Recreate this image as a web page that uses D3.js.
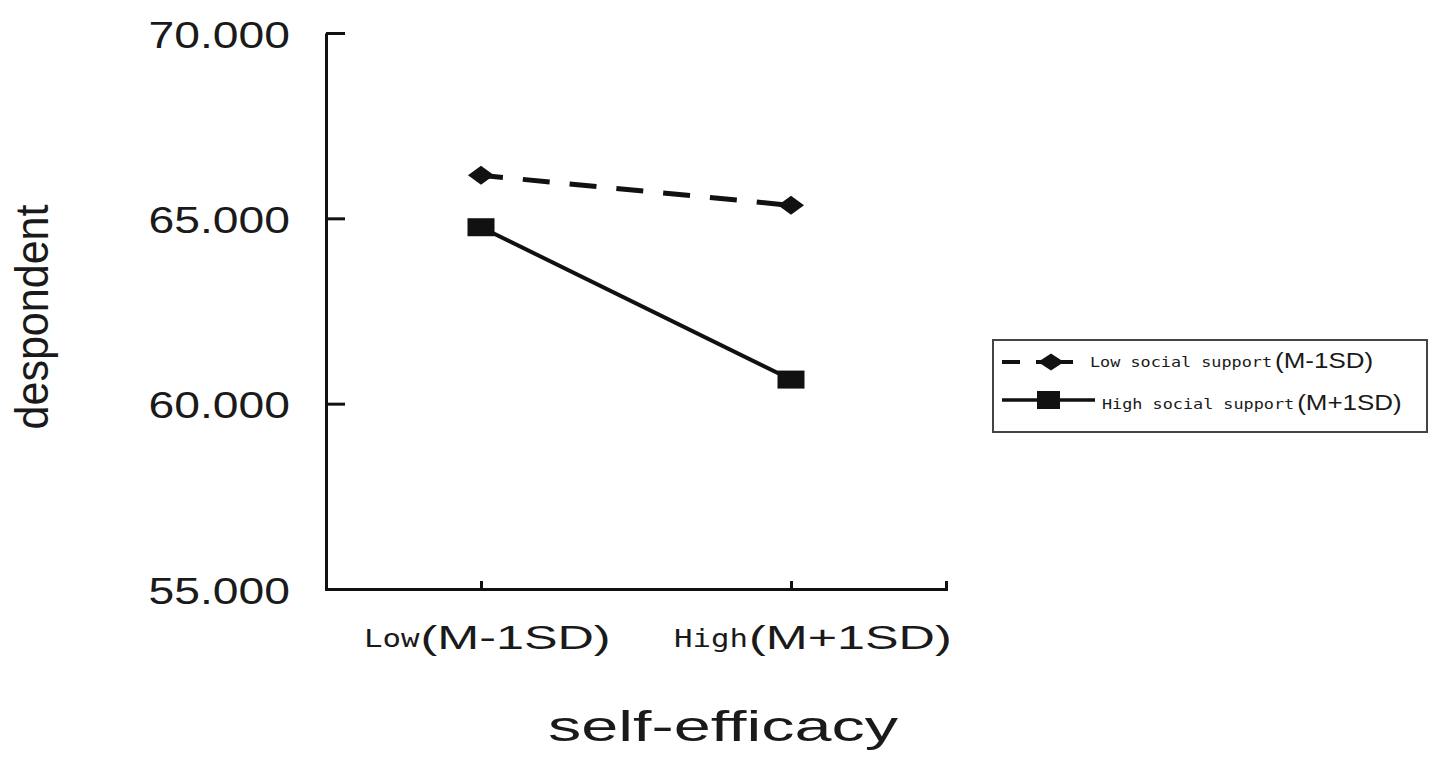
<!DOCTYPE html>
<html>
<head>
<meta charset="utf-8">
<script src="https://cdn.jsdelivr.net/npm/d3@7"></script>
<style>
  html, body { margin: 0; padding: 0; background: #fff; }
  svg { display: block; }
</style>
</head>
<body>
<svg id="chart" width="1441" height="761"></svg>
<script>
// values
const categories = ["Low", "High"];
const categoryNotes = ["(M-1SD)", "(M+1SD)"];
const seriesNames = ["Low social support", "High social support"];
const seriesNotes = ["(M-1SD)", "(M+1SD)"];
const lowSupport = [66.16, 65.35];
const highSupport = [64.76, 60.65];
const yTicks = [55, 60, 65, 70];

const ink = "#111";
const svg = d3.select("#chart");

// the source image is stretched sideways, so text gets widened to match
function widen(sel, factor) {
    sel.each(function () {
        let w = this.getComputedTextLength();
        d3.select(this).attr("textLength", w * factor).attr("lengthAdjust", "spacingAndGlyphs");
    });
    return sel;
}

let x = d3.scalePoint().domain(categories).range([326, 946]).padding(0.5);
let y = d3.scaleLinear().domain([55, 70]).range([589, 33]);

// y axis, ticks pointing inward
let yAxis = svg.append("g")
    .attr("transform", "translate(326,0)")
    .call(d3.axisLeft(y).tickValues(yTicks).tickSizeInner(-19).tickSizeOuter(0)
        .tickPadding(36).tickFormat(d3.format(".3f")));
yAxis.selectAll("path, line").attr("stroke", ink).attr("stroke-width", 3);
yAxis.selectAll("text")
    .attr("dy", 14)
    .attr("fill", "#1a1a1a")
    .style("font-family", "'Liberation Sans', Arial, sans-serif")
    .style("font-size", "37px")
    .call(widen, 1.25);

// x axis
let xAxis = svg.append("g")
    .attr("transform", `translate(0,${y(55)})`)
    .call(d3.axisBottom(x).tickSizeInner(-8).tickSizeOuter(-8).tickFormat(""));
xAxis.selectAll("path, line").attr("stroke", ink).attr("stroke-width", 3);
xAxis.selectAll("text").remove();

let xLab = svg.append("g").selectAll("g").data(categories).enter().append("g");
xLab.each(function (c, i) {
    let g = d3.select(this);
    let x0 = x(c) - 117;
    let small = g.append("text")
        .attr("x", x0).attr("y", 647)
        .attr("fill", "#1a1a1a")
        .style("font-family", "'DejaVu Sans Mono', monospace")
        .style("font-size", "24px")
        .text(c)
        .call(widen, 1.28);
    let w = +small.attr("textLength");
    g.append("text")
        .attr("x", x0 + w + 1).attr("y", 649)
        .attr("fill", "#1a1a1a")
        .style("font-family", "'Liberation Sans', Arial, sans-serif")
        .style("font-size", "34px")
        .text(categoryNotes[i])
        .call(widen, 1.48);
});

// axis titles
svg.append("text")
    .attr("x", 723).attr("y", 741)
    .attr("text-anchor", "middle")
    .attr("fill", "#1a1a1a")
    .style("font-family", "'Liberation Sans', Arial, sans-serif")
    .style("font-size", "42px")
    .text("self-efficacy")
    .attr("textLength", 350).attr("lengthAdjust", "spacingAndGlyphs");

svg.append("text")
    .attr("transform", "translate(48,317) rotate(-90)")
    .attr("text-anchor", "middle")
    .attr("fill", "#1a1a1a")
    .style("font-family", "'Liberation Sans', Arial, sans-serif")
    .style("font-size", "46px")
    .text("despondent")
    .attr("textLength", 225).attr("lengthAdjust", "spacingAndGlyphs");

// lines
let line = d3.line().x((d, i) => x(categories[i])).y(d => y(d));

svg.append("path")
    .datum(lowSupport)
    .attr("d", line)
    .attr("fill", "none")
    .attr("stroke", ink)
    .attr("stroke-width", 5)
    .attr("stroke-dasharray", "27,20")
    .attr("stroke-dashoffset", 5);

svg.append("path")
    .datum(highSupport)
    .attr("d", line)
    .attr("fill", "none")
    .attr("stroke", ink)
    .attr("stroke-width", 4);

const diamond = "M0,-9.5L13,0L0,9.5L-13,0Z";

svg.append("g").selectAll("path")
    .data(lowSupport).enter().append("path")
    .attr("d", diamond)
    .attr("fill", ink)
    .attr("transform", (d, i) => `translate(${x(categories[i])},${y(d)})`);

svg.append("g").selectAll("rect")
    .data(highSupport).enter().append("rect")
    .attr("x", (d, i) => x(categories[i]) - 13.5)
    .attr("y", d => y(d) - 9)
    .attr("width", 27)
    .attr("height", 18)
    .attr("fill", ink);

// legend
let legend = svg.append("g");
legend.append("rect")
    .attr("x", 993).attr("y", 340)
    .attr("width", 434).attr("height", 92)
    .attr("fill", "#fff")
    .attr("stroke", "#444")
    .attr("stroke-width", 2);

// row 1: dashed + diamond
legend.append("line")
    .attr("x1", 1002).attr("x2", 1073).attr("y1", 362).attr("y2", 362)
    .attr("stroke", ink).attr("stroke-width", 4)
    .attr("stroke-dasharray", "18,16,40");
legend.append("path")
    .attr("d", "M0,-8.5L13,0L0,8.5L-13,0Z")
    .attr("transform", "translate(1051,362)")
    .attr("fill", ink);

// row 2: solid + square
legend.append("line")
    .attr("x1", 1002).attr("x2", 1095).attr("y1", 400).attr("y2", 400)
    .attr("stroke", ink).attr("stroke-width", 3.5);
legend.append("rect")
    .attr("x", 1037).attr("y", 391).attr("width", 23).attr("height", 18)
    .attr("fill", ink);

let rowY = [367, 409];
let rowX = [1090, 1102];
seriesNames.forEach(function (name, i) {
    let t = legend.append("text")
        .attr("x", rowX[i]).attr("y", rowY[i])
        .attr("fill", "#1a1a1a")
        .style("font-family", "'DejaVu Sans Mono', monospace")
        .style("font-size", "14px")
        .text(name)
        .call(widen, 1.2);
    let w = +t.attr("textLength");
    legend.append("text")
        .attr("x", rowX[i] + w + 3).attr("y", rowY[i] + 1)
        .attr("fill", "#1a1a1a")
        .style("font-family", "'Liberation Sans', Arial, sans-serif")
        .style("font-size", "22px")
        .text(seriesNotes[i])
        .call(widen, 1.18);
});
</script>
</body>
</html>
